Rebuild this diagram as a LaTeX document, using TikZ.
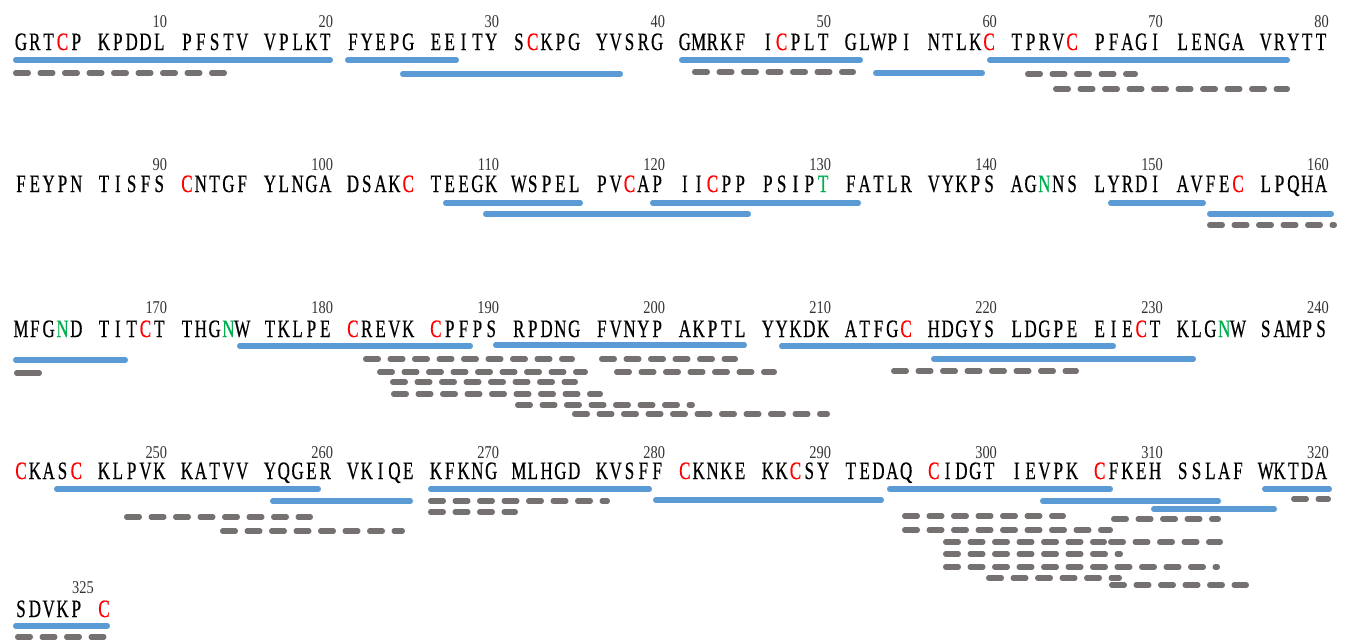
\documentclass[tikz,border=0pt]{standalone}
\usepackage{fontspec}
\newfontfamily\seqfont[FakeStretch=0.68,FakeBold=0.5]{Liberation Serif}
\newfontfamily\numfont[FakeStretch=0.8]{Liberation Serif}
\definecolor{covblue}{HTML}{5B9BD5}
\definecolor{pepgrey}{HTML}{767171}
\definecolor{cysred}{HTML}{FF0000}
\definecolor{glygreen}{HTML}{00B050}
\newcommand\cys[1]{\textcolor{cysred}{#1}}
\newcommand\gly[1]{\textcolor{glygreen}{#1}}
\tikzset{
  res/.style={anchor=base, inner sep=0pt, font=\seqfont\fontsize{25}{25}\selectfont},
  posnum/.style={anchor=base east, inner sep=0pt, text=black!80, font=\numfont\fontsize{18}{18}\selectfont},
  cov/.style={draw=covblue, line width=5.5pt, line cap=round},
  pep/.style={draw=pepgrey, line width=5.5pt, line cap=round, dash pattern=on 12.5pt off 12pt},
  pepsolid/.style={draw=pepgrey, line width=5.5pt, line cap=round}
}
% one row of residues: #1 row name, #2 baseline, #3 residues
\newcommand\seqline[3]{%
  \foreach \c [count=\k from 0] in {#3} {
    \pgfmathsetmacro\xx{21+13.83*(\k+floor(\k/5))}
    \node[res] (#1-\k) at (\xx,#2) {\c};
  }}
% position numbers above a row: #1 baseline, #2 first residue of row, #3 how many
\newcommand\numline[3]{%
  \foreach \j in {1,...,#3} {
    \pgfmathtruncatemacro\kk{10*\j-1}
    \pgfmathtruncatemacro\lab{#2-1+10*\j}
    \pgfmathsetmacro\xx{21+13.83*(\kk+floor(\kk/5))+8}
    \node[posnum] (num-\lab) at (\xx,#1) {\lab};
  }}
% coverage bars given by outer pixel extent
\newcommand\covbar[3]{\draw[cov] (#1+2.75,#3) -- (#2-2.75,#3);}
\newcommand\pepbar[3]{\draw[pep] (#1+2.75,#3) -- (#2-2.75,#3);}
\begin{document}
\begin{tikzpicture}[x=1pt,y=-1pt]
\fill[white] (0,0) rectangle (1346,641);
\useasboundingbox (0,0) rectangle (1346,641);

% ---- residues 1-80
\seqline{ra}{50}{G,R,T,\cys{C},P, K,P,D,D,L, P,F,S,T,V, V,P,L,K,T, F,Y,E,P,G, E,E,I,T,Y, S,\cys{C},K,P,G, Y,V,S,R,G, G,M,R,K,F, I,\cys{C},P,L,T, G,L,W,P,I, N,T,L,K,\cys{C}, T,P,R,V,\cys{C}, P,F,A,G,I, L,E,N,G,A, V,R,Y,T,T}
\numline{27}{1}{8}
\covbar{13}{333}{60}
\covbar{345}{459}{60}
\covbar{400}{623}{74}
\covbar{679}{863}{60}
\covbar{873}{985}{73}
\covbar{987}{1290}{60}
\pepbar{13}{227}{73}
\pepbar{692}{856}{72}
\pepbar{1025}{1138}{74}
\pepbar{1053}{1290}{89}

% ---- residues 81-160
\seqline{rb}{192}{F,E,Y,P,N, T,I,S,F,S, \cys{C},N,T,G,F, Y,L,N,G,A, D,S,A,K,\cys{C}, T,E,E,G,K, W,S,P,E,L, P,V,\cys{C},A,P, I,I,\cys{C},P,P, P,S,I,P,\gly{T}, F,A,T,L,R, V,Y,K,P,S, A,G,\gly{N},N,S, L,Y,R,D,I, A,V,F,E,\cys{C}, L,P,Q,H,A}
\numline{170}{81}{8}
\covbar{443}{583}{203}
\covbar{483}{751}{214}
\covbar{650}{861}{203}
\covbar{1108}{1206}{203}
\covbar{1207}{1334}{214}
\pepbar{1207}{1337}{225}

% ---- residues 161-240
\seqline{rc}{337}{M,F,G,\gly{N},D, T,I,T,\cys{C},T, T,H,G,\gly{N},W, T,K,L,P,E, \cys{C},R,E,V,K, \cys{C},P,F,P,S, R,P,D,N,G, F,V,N,Y,P, A,K,P,T,L, Y,Y,K,D,K, A,T,F,G,\cys{C}, H,D,G,Y,S, L,D,G,P,E, E,I,E,\cys{C},T, K,L,G,\gly{N},W, S,A,M,P,S}
\numline{313}{161}{8}
\covbar{237}{473}{346}
\covbar{13}{128}{360}
\draw[pepsolid] (16.75,373) -- (39.25,373);
\pepbar{363}{575}{359}
\pepbar{599}{738}{359}
\pepbar{377}{588}{372}
\pepbar{614}{777}{372}
\pepbar{390}{578}{382}
\pepbar{391}{603}{394}
\pepbar{515}{695}{405}
\pepbar{572}{830}{414}
\covbar{493}{747}{345}
\covbar{779}{1116}{346}
\covbar{931}{1196}{359}
\pepbar{891}{1079}{371}

% ---- residues 241-320
\seqline{rd}{479}{\cys{C},K,A,S,\cys{C}, K,L,P,V,K, K,A,T,V,V, Y,Q,G,E,R, V,K,I,Q,E, K,F,K,N,G, M,L,H,G,D, K,V,S,F,F, \cys{C},K,N,K,E, K,K,\cys{C},S,Y, T,E,D,A,Q, \cys{C},I,D,G,T, I,E,V,P,K, \cys{C},F,K,E,H, S,S,L,A,F, W,K,T,D,A}
\numline{458}{241}{8}
\covbar{54}{321}{489}
\covbar{270}{413}{501}
\pepbar{124}{313}{517}
\pepbar{220}{405}{531}
\covbar{428}{652}{489}
\pepbar{428}{610}{501}
\pepbar{428}{518}{512}
\covbar{653}{884}{500}
\covbar{887}{1113}{489}
\covbar{1040}{1221}{501}
\covbar{1151}{1277}{509}
\covbar{1262}{1332}{489}
\pepbar{1291}{1331}{499}
\pepbar{902}{1066}{516}
\pepbar{1111}{1221}{519}
\pepbar{902}{1113}{530}
\pepbar{943}{1107}{542}
\pepbar{1108}{1223}{542}
\pepbar{943}{1123}{554}
\pepbar{943}{1220}{567}
\pepbar{986}{1122}{578}
\pepbar{1109}{1249}{585}

% ---- residues 321-326
\seqline{re}{617}{S,D,V,K,P, \cys{C}}
\node[posnum] (num-325) at (94,593) {325};
\covbar{13}{110}{626}
\pepbar{15}{110}{637}
\end{tikzpicture}
\end{document}
